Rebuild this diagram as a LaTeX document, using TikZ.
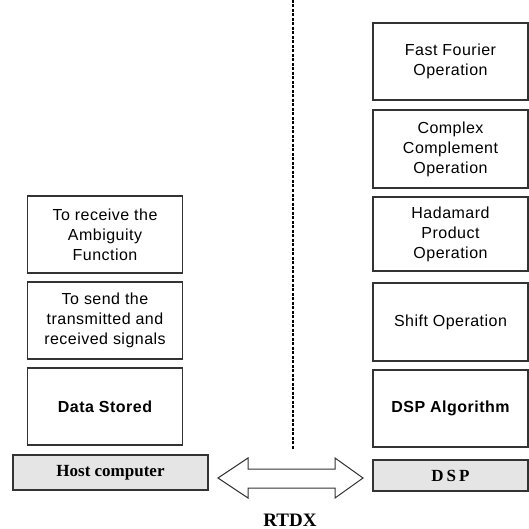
\documentclass[tikz,border=0pt]{standalone}
\usepackage{fontspec}
\setmainfont{Liberation Sans}[LetterSpace=3]
\newfontfamily\serifbf{Liberation Serif}[BoldFont={Liberation Serif Bold}]
\usetikzlibrary{calc}
\usepackage{color}

\begin{document}
\begin{tikzpicture}[x=1pt,y=-1pt,
	box/.style={draw=black!80,line width=1.3pt,fill=white,minimum width=155pt,minimum height=77pt,inner sep=0pt,align=center,font=\fontsize{16}{20}\selectfont},
	unitbox/.style={draw=black!80,line width=1.3pt,fill=black!10,inner sep=0pt,font=\serifbf\bfseries\fontsize{17}{19}\selectfont}]
	\useasboundingbox (0,0) rectangle (528,529);
	% host side
	\node[box] (recv) at (105,234.5) {To receive the\\Ambiguity\\Function};
	\node[box] (send) at (105,320.5) {To send the\\transmitted and\\received signals};
	\node[box,font=\bfseries\fontsize{16}{20}\selectfont] (data) at (105,406.5) {Data Stored};
	\node[unitbox,minimum width=195pt,minimum height=35pt] (host) at (110.5,472.5) {Host computer};
	% dsp side
	\node[box] (fft) at (450.5,61.5) {Fast Fourier\\Operation};
	\node[box,minimum height=78pt] (conj) at (450.5,149) {Complex\\Complement\\Operation};
	\node[box,minimum height=74pt] (hadam) at (450.5,234) {Hadamard\\Product\\Operation};
	\node[box,minimum height=78pt] (shift) at (450.5,322) {Shift Operation};
	\node[box,font=\bfseries\fontsize{16}{20}\selectfont] (alg) at (450.5,408.5) {DSP Algorithm};
	\node[unitbox,minimum width=155pt,minimum height=31pt,font=\serifbf\bfseries\fontsize{17}{19}\addfontfeature{LetterSpace=18}\selectfont] (dsp) at (450.5,475.5) {DSP};
	% link
	\draw[line width=1.8pt,dash pattern=on 3pt off 1.5pt] (293,0)--(293,450);
	\draw[black!80,line width=1pt,fill=white] (218,478)--(248,458)--(248,469)--(335,469)--(335,458)--(363,478)--(335,498)--(335,488)--(248,488)--(248,498)--cycle;
	\node[font=\serifbf\bfseries\fontsize{19}{21}\selectfont] (rtdx) at (290,520) {RTDX};
\end{tikzpicture}
\end{document}
